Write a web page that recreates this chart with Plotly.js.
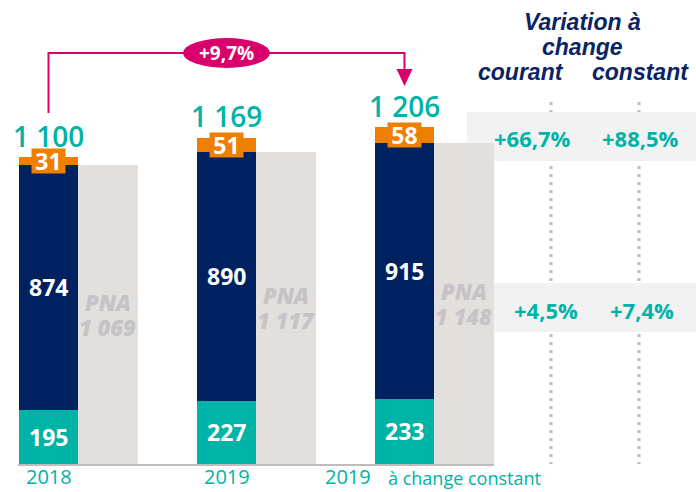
<!DOCTYPE html>
<html>
<head>
<meta charset="utf-8">
<script src="https://cdn.plot.ly/plotly-3.0.1.min.js"></script>
<style>html,body{margin:0;padding:0;background:#fff;}#chart{width:696px;height:492px;}</style>
</head>
<body>
<div id="chart"></div>
<script>
// ---- Data ----
const categories = ['2018', '2019', '2019'];
const categorySub = 'à change constant';
const tealValues = [195, 227, 233];
const navyValues = [874, 890, 915];
const orangeValues = [31, 51, 58];
const totalValues = [1100, 1169, 1206];
const pnaValues = [1069, 1117, 1148];
const pnaLabel = 'PNA';
const growthLabel = '+9,7%';
const headerLines = ['Variation à', 'change'];
const headerCols = ['courant', 'constant'];
const varCourant = ['+66,7%', '+4,5%'];
const varConstant = ['+88,5%', '+7,4%'];

// ---- Styles ----
const TEAL = '#00B3A7', NAVY = '#00215F', ORANGE = '#EE7F00', GREY_BAR = '#E3DFDC',
      PNA_TXT = '#C6C2C6', MAGENTA = '#D9006C', HEAD = '#0A2463', BAND = '#F2F2F2';
const FONT = 'Open Sans, Noto Sans, sans-serif';
const W = 696, H = 492;
const px = x => x / W, py = y => 1 - y / H;
const CW = 0.3315, GW = 0.337;
const xs = categories.map((c, i) => i);

const fmt = n => String(n).replace(/\B(?=(\d{3})+(?!\d))/g, ' ');
const navyBase = tealValues.slice();
const orangeBase = tealValues.map((t, i) => t + navyValues[i]);

const common = {type: 'bar', x: xs, hoverinfo: 'skip', marker: {line: {width: 0}}};
const traces = [
  Object.assign({}, common, {y: tealValues, base: 0, width: CW, offset: -CW, marker: {color: TEAL}}),
  Object.assign({}, common, {y: navyValues, base: navyBase, width: CW, offset: -CW, marker: {color: NAVY}}),
  Object.assign({}, common, {y: orangeValues, base: orangeBase, width: CW, offset: -CW, marker: {color: ORANGE}}),
  Object.assign({}, common, {y: pnaValues, base: 0, width: GW, offset: 0, marker: {color: GREY_BAR}})
];

const ann = [];
const cx = i => i - CW / 2;
const gx = i => i + GW / 2;
const WHITE_F = {family: FONT, size: 23, color: '#fff', weight: 700};
const PNA_F = {family: FONT, size: 22, color: PNA_TXT, weight: 800, style: 'italic'};
xs.forEach(i => {
  ann.push({x: cx(i), y: totalValues[i], yshift: 21, text: fmt(totalValues[i]), showarrow: false,
    xanchor: 'center', yanchor: 'middle', height: 24, borderpad: 0,
    font: {family: FONT, size: 28, color: TEAL, weight: 600}});
  ann.push({x: cx(i), y: orangeBase[i] + orangeValues[i] / 2, text: String(orangeValues[i]), showarrow: false,
    xanchor: 'center', yanchor: 'middle', bgcolor: ORANGE, width: 33, height: 24, borderpad: 0, font: WHITE_F});
  ann.push({x: cx(i), y: navyBase[i] + navyValues[i] / 2, text: String(navyValues[i]), showarrow: false,
    xanchor: 'center', yanchor: 'middle', font: WHITE_F});
  ann.push({x: cx(i), y: tealValues[i] / 2, text: String(tealValues[i]), showarrow: false,
    xanchor: 'center', yanchor: 'middle', font: WHITE_F});
  ann.push({x: gx(i), y: pnaValues[i] / 2, yshift: 12.5, text: pnaLabel, showarrow: false,
    xanchor: 'center', yanchor: 'middle', font: PNA_F});
  ann.push({x: gx(i), y: pnaValues[i] / 2, yshift: -12.5, text: fmt(pnaValues[i]), showarrow: false,
    xanchor: 'center', yanchor: 'middle', font: PNA_F});
});
// category labels
const catX = [cx(0), cx(1), (348 - 78) / 178];
categories.forEach((c, i) => {
  ann.push({x: catX[i], xref: 'x', y: 0, yref: 'paper', text: c, showarrow: false,
    xanchor: 'center', yanchor: 'bottom', font: {family: FONT, size: 20, color: TEAL, weight: 400}});
});
ann.push({x: (386 - 78) / 178, xref: 'x', y: 0, yref: 'paper', text: categorySub, showarrow: false,
  xanchor: 'left', yanchor: 'bottom', font: {family: FONT, size: 18, color: TEAL, weight: 400}});

// growth bubble text
ann.push({x: px(226.7), xref: 'paper', y: py(53), yref: 'paper', text: growthLabel, showarrow: false,
  xanchor: 'center', yanchor: 'middle', font: {family: FONT, size: 19, color: '#fff', weight: 700}});

// header
const HF = {family: 'Liberation Sans, Arial, sans-serif', size: 23, color: HEAD, weight: 700, style: 'italic'};
ann.push({x: px(582), xref: 'paper', y: py(22), yref: 'paper', text: headerLines[0], showarrow: false, xanchor: 'center', yanchor: 'middle', font: HF});
ann.push({x: px(582), xref: 'paper', y: py(47), yref: 'paper', text: headerLines[1], showarrow: false, xanchor: 'center', yanchor: 'middle', font: HF});
ann.push({x: px(521), xref: 'paper', y: py(72), yref: 'paper', text: headerCols[0], showarrow: false, xanchor: 'center', yanchor: 'middle', font: HF});
ann.push({x: px(640), xref: 'paper', y: py(72), yref: 'paper', text: headerCols[1], showarrow: false, xanchor: 'center', yanchor: 'middle', font: HF});

// table values
const rowY = [138, 310];
const colCX = [[532, 546], [640, 641.5]];
const VF = {family: FONT, size: 22, color: TEAL, weight: 700};
rowY.forEach((ry, r) => {
  ann.push({x: px(colCX[0][r]), xref: 'paper', y: py(ry), yref: 'paper', text: varCourant[r], showarrow: false, xanchor: 'center', yanchor: 'middle', font: VF});
  ann.push({x: px(colCX[1][r]), xref: 'paper', y: py(ry), yref: 'paper', text: varConstant[r], showarrow: false, xanchor: 'center', yanchor: 'middle', font: VF});
});

const shapes = [
  // dotted column lines
  {type: 'line', xref: 'paper', yref: 'paper', x0: px(551), x1: px(551), y0: py(102), y1: py(464), layer: 'below',
   line: {color: '#BDBDBD', width: 3, dash: '3px,5px'}},
  {type: 'line', xref: 'paper', yref: 'paper', x0: px(639), x1: px(639), y0: py(102), y1: py(464), layer: 'below',
   line: {color: '#BDBDBD', width: 3, dash: '3px,5px'}},
  // row bands
  {type: 'rect', xref: 'paper', yref: 'paper', x0: px(467), x1: 1, y0: py(112), y1: py(161), layer: 'below',
   fillcolor: BAND, line: {width: 0}},
  {type: 'rect', xref: 'paper', yref: 'paper', x0: px(467), x1: 1, y0: py(283), y1: py(332), layer: 'below',
   fillcolor: BAND, line: {width: 0}},
  // baseline
  {type: 'line', xref: 'x', yref: 'paper', x0: -CW - 0.005, x1: 2 + GW, y0: py(465), y1: py(465),
   line: {color: '#BDBDBD', width: 2}},
  // growth arrow
  {type: 'path', xref: 'paper', yref: 'paper',
   path: 'M ' + px(48.5) + ' ' + py(113) + ' L ' + px(48.5) + ' ' + py(53) + ' L ' + px(404.5) + ' ' + py(53) + ' L ' + px(404.5) + ' ' + py(70),
   line: {color: MAGENTA, width: 2}},
  {type: 'path', xref: 'paper', yref: 'paper',
   path: 'M ' + px(396.5) + ' ' + py(69) + ' L ' + px(412.5) + ' ' + py(69) + ' L ' + px(404.5) + ' ' + py(86) + ' Z',
   fillcolor: MAGENTA, line: {color: MAGENTA, width: 0}},
  {type: 'circle', xref: 'paper', yref: 'paper', x0: px(183), x1: px(270), y0: py(68), y1: py(38),
   fillcolor: MAGENTA, line: {width: 0}}
];

const layout = {
  width: W, height: H, autosize: false,
  margin: {l: 0, r: 0, t: 0, b: 0, pad: 0},
  paper_bgcolor: '#fff', plot_bgcolor: 'rgba(0,0,0,0)',
  barmode: 'overlay', showlegend: false, bargap: 0,
  xaxis: {range: [-78 / 178, 618 / 178], visible: false, fixedrange: true},
  yaxis: {range: [-28 / 0.2795, 464 / 0.2795], visible: false, fixedrange: true},
  annotations: ann, shapes: shapes,
  font: {family: FONT}
};
Plotly.newPlot('chart', traces, layout, {staticPlot: true, displayModeBar: false});
</script>
</body>
</html>
